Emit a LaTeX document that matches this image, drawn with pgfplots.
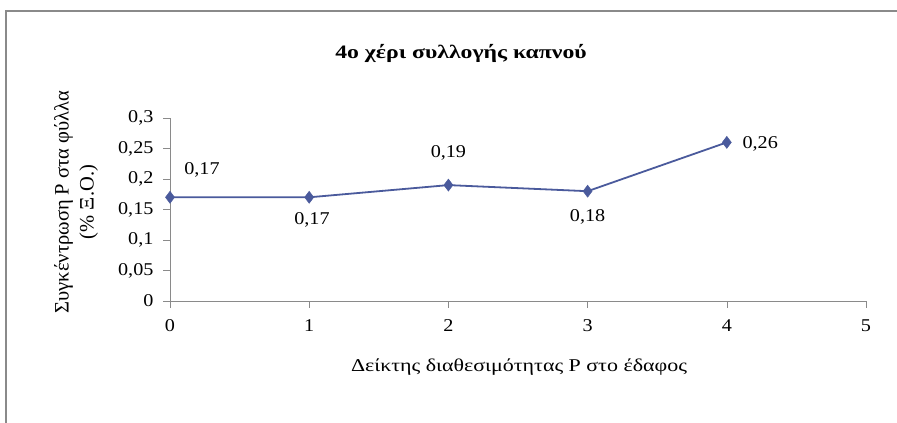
\documentclass[border=0pt]{standalone}
\usepackage{fontspec}
\setmainfont{Liberation Serif}
\usepackage{pgfplots}
\pgfplotsset{compat=1.18}
\definecolor{lineblue}{HTML}{4A5A9C}
\definecolor{axgray}{HTML}{8A8A8A}
\begin{document}
\begin{tikzpicture}[x=1pt,y=1pt]
\useasboundingbox (0,0) rectangle (897,423);
\fill[white] (0,0) rectangle (897,423);
\draw[axgray, line width=1.2pt] (6,0) -- (6,412) -- (897,412);
\node[font=\fontsize{19}{22}\selectfont\bfseries, xscale=1.25] at (461,370) {4ο χέρι συλλογής καπνού};
\begin{axis}[
  at={(170pt,122pt)}, anchor=south west,
  scale only axis, width=696pt, height=183pt,
  xmin=0, xmax=5, ymin=0, ymax=0.3,
  axis x line=bottom, axis y line=left,
  axis line style={axgray, -, line width=0.8pt},
  xtick={0,1,2,3,4,5}, ytick={0,0.05,0.1,0.15,0.2,0.25,0.3},
  tick align=outside, major tick length=7pt,
  tick style={axgray, line width=0.6pt},
  /pgf/number format/assume math mode=true,
  /pgf/number format/use comma,
  yticklabel style={/pgf/number format/fixed, /pgf/number format/precision=2, xshift=-5pt},
  ticklabel style={font=\fontsize{18}{21}\selectfont, xscale=1.12},
  xticklabel style={yshift=-8pt},
  clip=false,
]
\addplot[color=lineblue, line width=1.8pt, mark=diamond*, mark size=6pt, mark options={fill=lineblue, line width=0.5pt}]
  coordinates {(0,0.17) (1,0.17) (2,0.19) (3,0.18) (4,0.26)};
\node[font=\fontsize{18}{21}\selectfont, xscale=1.12] at (axis cs:0.23,0.215) {0,17};
\node[font=\fontsize{18}{21}\selectfont, xscale=1.12] at (axis cs:1.02,0.133) {0,17};
\node[font=\fontsize{18}{21}\selectfont, xscale=1.12] at (axis cs:2,0.243) {0,19};
\node[font=\fontsize{18}{21}\selectfont, xscale=1.12] at (axis cs:3.0,0.138) {0,18};
\node[font=\fontsize{18}{21}\selectfont, xscale=1.12] at (axis cs:4.24,0.258) {0,26};
\end{axis}
\node[font=\fontsize{18}{21}\selectfont, xscale=1.22] at (519,56) {Δείκτης διαθεσιμότητας Ρ στο έδαφος};
\node[font=\fontsize{20.5}{25}\selectfont, rotate=90, align=center] at (76,221) {Συγκέντρωση Ρ στα φύλλα\\(\% Ξ.Ο.)};
\end{tikzpicture}
\end{document}
